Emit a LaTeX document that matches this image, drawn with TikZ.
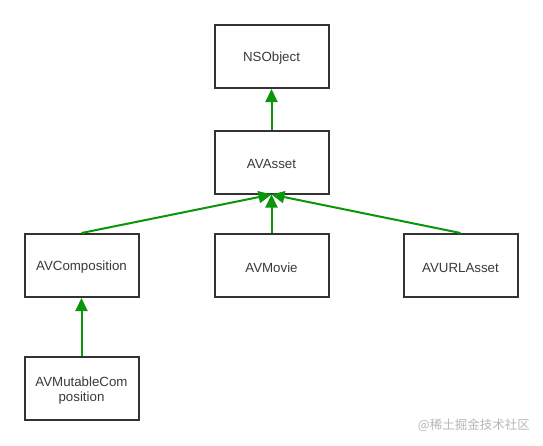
\documentclass[tikz,border=0pt]{standalone}
\usepackage{fontspec}
\setmainfont{Liberation Sans}
\newfontfamily\cjk{Noto Sans CJK SC}
\usetikzlibrary{arrows.meta}
\definecolor{boxline}{HTML}{333333}
\definecolor{txt}{HTML}{3A3A3A}
\definecolor{arrgreen}{HTML}{0A960A}
\definecolor{wm}{HTML}{B8B8B8}
\begin{document}
\begin{tikzpicture}[x=1pt,y=-1pt,
  cls/.style={draw=boxline,line width=2pt,minimum width=114pt,minimum height=63pt,
    inner sep=0pt,align=center,text=txt,font=\fontsize{13.3}{15}\selectfont},
  lbl/.style={text=txt,font=\fontsize{13.3}{15}\selectfont,align=center,inner sep=0pt},
  inh/.style={draw=arrgreen,line width=2pt,-{Triangle[length=13pt,width=12pt]}}]
\fill[white] (0,0) rectangle (543,445);
\useasboundingbox (0,0) rectangle (543,445);
\node[cls] (nsobject) at (271.5,56.5) {};
\node[cls] (avasset) at (271.5,162) {};
\node[cls] (avcomp) at (81.5,265.5) {};
\node[cls] (avmovie) at (271.5,265.5) {};
\node[cls] (avurl) at (460.5,265.5) {};
\node[cls] (avmut) at (81.5,388.5) {};
\node[lbl] (t1) at ([yshift=-2pt]nsobject.center) {NSObject};
\node[lbl] (t2) at ([yshift=-2pt]avasset.center) {AVAsset};
\node[lbl] (t3) at ([yshift=-2pt]avcomp.center) {AVComposition};
\node[lbl] (t4) at ([yshift=-2pt]avmovie.center) {AVMovie};
\node[lbl] (t5) at ([yshift=-2pt]avurl.center) {AVURLAsset};
\node[lbl] (t6) at ([yshift=-2pt]avmut.center) {AVMutableCom\\position};
\draw[inh] (avasset.north) -- (nsobject.south);
\draw[inh] (avcomp.north) -- (avasset.south);
\draw[inh] (avmovie.north) -- (avasset.south);
\draw[inh] (avurl.north) -- (avasset.south);
\draw[inh] (avmut.north) -- (avcomp.south);
\node[text=wm,font=\cjk\fontsize{12.5}{14}\selectfont,anchor=east,inner sep=0pt] (wmark) at (530,425) {@稀土掘金技术社区};
\end{tikzpicture}
\end{document}
